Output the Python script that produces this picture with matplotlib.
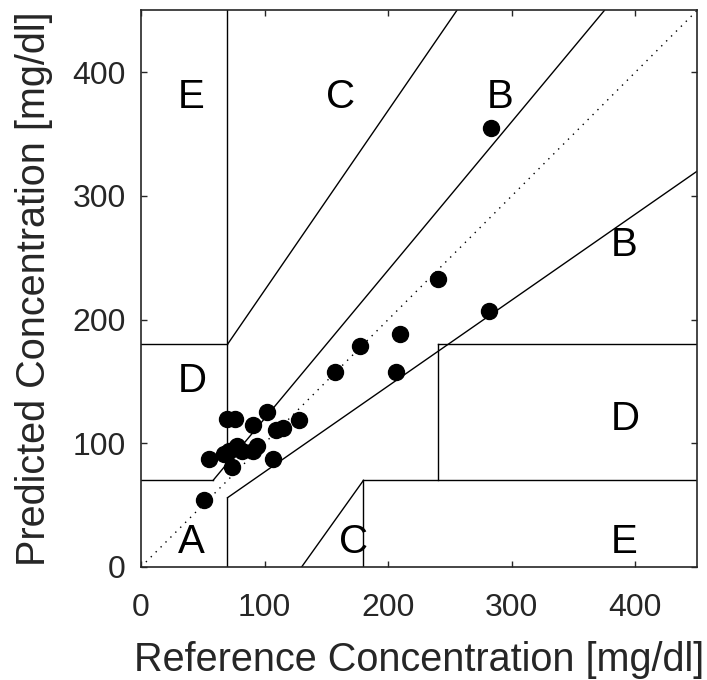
import matplotlib

matplotlib.use("Agg")
import matplotlib.pyplot as plt

plt.rcParams["font.family"] = ["Liberation Sans", "DejaVu Sans"]

INK = "#262626"

# measured points (reference vs predicted, mg/dl)
ref = [283, 240, 282, 210, 177, 157, 206, 70, 76, 102, 91, 109, 115, 128,
       94, 91, 78, 71, 82, 67, 55, 74, 107, 51]
pred = [355, 233, 207, 188, 179, 158, 158, 120, 120, 125, 115, 111, 112, 119,
        98, 94, 98, 94, 94, 91, 87, 81, 87, 54]

# zone boundaries: (x0, x1), (y0, y1)
zone_lines = [
    ((0, 175 / 3), (70, 70)),
    ((175 / 3, 375), (70, 450)),
    ((70, 70), (84, 450)),
    ((0, 70), (180, 180)),
    ((70, 255.6), (180, 450)),
    ((70, 70), (0, 56)),
    ((70, 450), (56, 320)),
    ((180, 180), (0, 70)),
    ((180, 450), (70, 70)),
    ((240, 240), (70, 180)),
    ((240, 450), (180, 180)),
    ((130, 180), (0, 70)),
]

zone_labels = ["A", "D", "E", "C", "C", "E", "D", "B", "B"]
label_x = [30, 30, 30, 150, 160, 380, 380, 380, 280]
label_y = [20, 150, 380, 380, 20, 20, 120, 260, 380]

ticks = [0, 100, 200, 300, 400]

fig = plt.figure(figsize=(7.07, 6.80), dpi=100)
ax = fig.add_axes([0.1994, 0.1662, 0.7865, 0.8184])

ax.plot([0, 450], [0, 450], color="k", linestyle=(0, (1, 4)), linewidth=1.0)
for xs, ys in zone_lines:
    ax.plot(xs, ys, color="k", linewidth=1.0)

ax.plot(ref, pred, "o", color="k", markersize=11.5, zorder=5)

for lab, x, y in zip(zone_labels, label_x, label_y):
    ax.text(x, y, lab, fontsize=29, ha="left", va="center", color="k")

ax.set_xlim(0, 450)
ax.set_ylim(0, 450)
ax.set_xticks(ticks)
ax.set_yticks(ticks)
ax.tick_params(direction="in", length=4.5, width=1.0, colors=INK,
               labelsize=23, top=True, right=True)
ax.tick_params(axis="x", pad=19)
ax.tick_params(axis="y", pad=11)
for s in ax.spines.values():
    s.set_color(INK)
    s.set_linewidth(1.2)

ax.set_xlabel("Reference Concentration [mg/dl]", fontsize=28.5, color=INK, labelpad=13)
ax.set_ylabel("Predicted Concentration [mg/dl]", fontsize=28.5, color=INK, labelpad=14)

fig.savefig("out.png", dpi=100)
